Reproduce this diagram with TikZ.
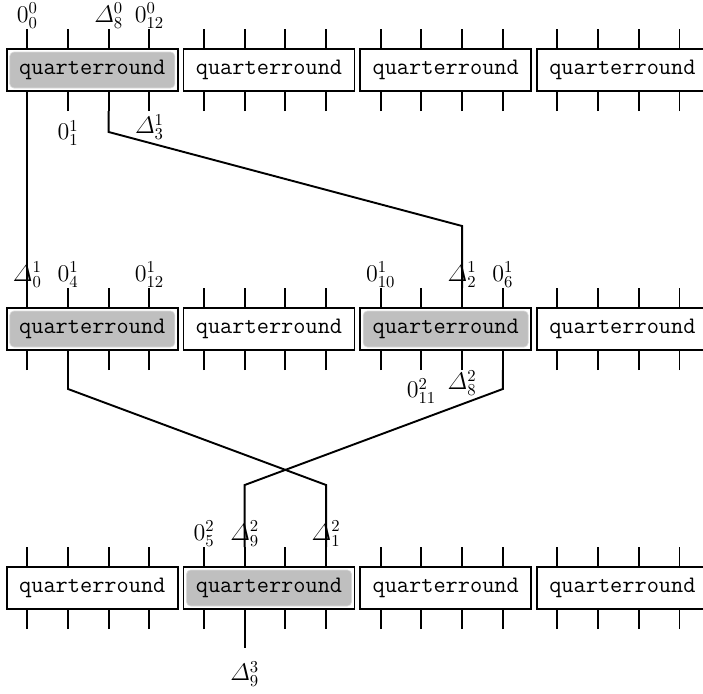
\documentclass[tikz,border=0pt]{standalone}
\usepackage{amsmath}
\usetikzlibrary{calc}
\begin{document}
\begin{tikzpicture}[x=0.6pt,y=-0.6pt,
  ln/.style={line width=1.15pt},
  qbox/.style={draw,line width=1.15pt,rectangle,minimum width=102.6pt,minimum height=25.2pt,inner sep=0pt,outer sep=0pt,font=\fontsize{14.2}{16}\ttfamily},
  hl/.style={qbox,path picture={\fill[gray!50,draw=gray!30,line width=0.4pt,rounded corners=2.5pt]
      ([shift={(1.8pt,-1.8pt)}]path picture bounding box.north west) rectangle
      ([shift={(-1.8pt,1.8pt)}]path picture bounding box.south east);}},
  lab/.style={inner sep=0.2pt,font=\fontsize{14}{16}\selectfont},
  wire/.style={line width=1.15pt,line join=miter}]
\useasboundingbox (0,0) rectangle (703,694);
\clip (0,0) rectangle (703,694);
\foreach \r/\c/\s in {0/0/hl,0/1/qbox,0/2/qbox,0/3/qbox,
                      1/0/hl,1/1/qbox,1/2/hl,1/3/qbox,
                      2/0/qbox,2/1/hl,2/2/qbox,2/3/qbox}{
  \pgfmathsetmacro\L{6.8+176.7*\c}
  \pgfmathsetmacro\T{49+259*\r}
  \node[\s] (b\r\c) at (\L+85.5,\T+21) {quarterround};
  \foreach \k in {0,...,3}{
    \pgfmathsetmacro\X{\L+20.5+40.7*\k}
    \coordinate (u\r\c\k) at (\X,\T-20);
    \coordinate (d\r\c\k) at (\X,\T+62);
    \draw[ln] (u\r\c\k) -- (u\r\c\k |- b\r\c.north);
    \draw[ln] (d\r\c\k) -- (d\r\c\k |- b\r\c.south);
  }
}
% labels row 0
\node[lab,anchor=south] (l1) at (u000) {$0_{0}^{0}$};
\node[lab,anchor=south] (l2) at (u002) {$\varDelta_{8}^{0}$};
\node[lab,anchor=south] (l3) at (u003) {$0_{12}^{0}$};
\node[lab] (l4) at ($(d001)+(0,22)$) {$0_{1}^{1}$};
\node[lab] (l5) at ($(d003)+(0,16)$) {$\varDelta_{3}^{1}$};
% labels row 1
\node[lab,anchor=south] (l6) at (u100) {$\varDelta_{0}^{1}$};
\node[lab,anchor=south] (l7) at (u101) {$0_{4}^{1}$};
\node[lab,anchor=south] (l8) at (u103) {$0_{12}^{1}$};
\node[lab,anchor=south] (l9) at (u120) {$0_{10}^{1}$};
\node[lab,anchor=south] (l10) at (u122) {$\varDelta_{2}^{1}$};
\node[lab,anchor=south] (l11) at (u123) {$0_{6}^{1}$};
\node[lab] (l12) at ($(d121)+(0,21)$) {$0_{11}^{2}$};
\node[lab] (l13) at ($(d122)+(0,13)$) {$\varDelta_{8}^{2}$};
% labels row 2
\node[lab,anchor=south] (l14) at (u210) {$0_{5}^{2}$};
\node[lab,anchor=south] (l15) at (u211) {$\varDelta_{9}^{2}$};
\node[lab,anchor=south] (l16) at (u213) {$\varDelta_{1}^{2}$};
% connectors
\coordinate (a1) at ($(d002)+(0,21)$);
\coordinate (a2) at ($(u122)+(0,-62)$);
\coordinate (c1) at ($(d101)+(0,19)$);
\coordinate (c2) at ($(u213)+(0,-62)$);
\coordinate (e1) at ($(d123)+(0,19)$);
\coordinate (e2) at ($(u211)+(0,-62)$);
\coordinate (f1) at ($(d211)+(0,19)$);
\node[lab] (l17) at ($(f1)+(0,26)$) {$\varDelta_{9}^{3}$};
\draw[wire] (d000) -- (u100);
\draw[wire] (d002) -- (a1) -- (a2) -- (u122);
\draw[wire] (d101) -- (c1) -- (c2) -- (u213);
\draw[wire] (d123) -- (e1) -- (e2) -- (u211);
\draw[wire] (d211) -- (f1);
\end{tikzpicture}
\end{document}
